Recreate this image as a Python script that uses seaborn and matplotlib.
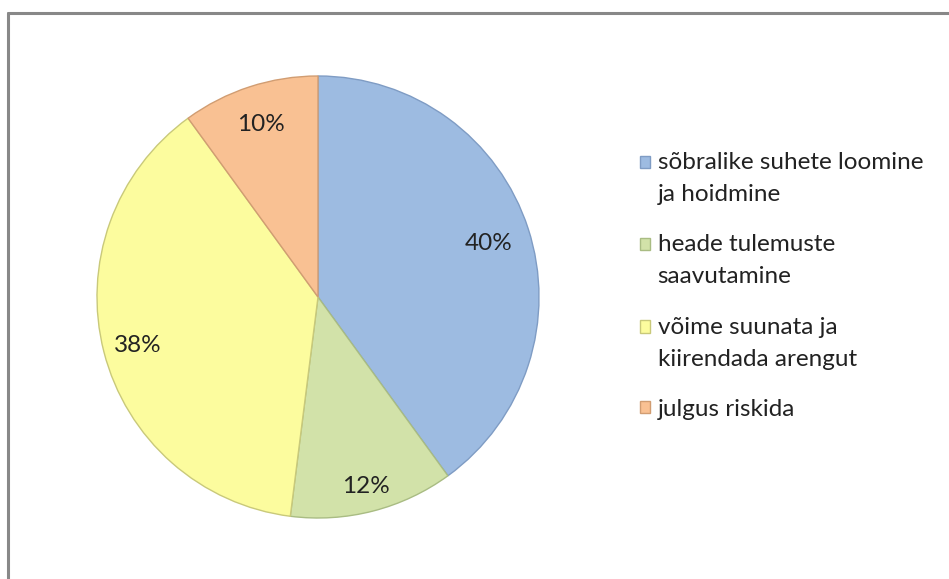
import numpy as np
import seaborn as sns
import matplotlib.pyplot as plt
from matplotlib.lines import Line2D
from matplotlib.patches import Rectangle
from matplotlib.legend_handler import HandlerPatch

labels = ["sõbralike suhete loomine\nja hoidmine", "heade tulemuste\nsaavutamine",
          "võime suunata ja\nkiirendada arengut", "julgus riskida"]
shares = [40, 12, 38, 10]
label_dist = [0.81, 0.875, 0.84, 0.83]
colors = ["#9DBBE1", "#D2E2A9", "#FCFC9E", "#F9C193"]
edges = ["#7F9CC4", "#A9BC83", "#C9C97A", "#D19D72"]

sns.set_theme(style="white")
plt.rcParams["font.family"] = ["Lato", "DejaVu Sans"]

fig = plt.figure(figsize=(9.49, 5.79), dpi=100)

# frame like the spreadsheet chart border
fig.add_artist(Line2D([8 / 949, 8 / 949], [0, 1 - 13 / 579], color="#888888", lw=2.2))
fig.add_artist(Line2D([8 / 949, 1], [1 - 13 / 579, 1 - 13 / 579], color="#888888", lw=2.2))

r = 221
ax = fig.add_axes([(318 - r) / 949, (579 - 297 - r) / 579, 2 * r / 949, 2 * r / 579])
wedges, texts, autotexts = ax.pie(
    shares, colors=colors, startangle=90, counterclock=False,
    autopct="%d%%", pctdistance=0.84,
    wedgeprops=dict(linewidth=1.0),
    textprops=dict(fontsize=17.5, color="#222222"),
)
for w, e, t, d in zip(wedges, edges, autotexts, label_dist):
    w.set_edgecolor(e)
    mid = np.deg2rad((w.theta1 + w.theta2) / 2)
    t.set_position((d * np.cos(mid), d * np.sin(mid)))
    t.set_va("center_baseline")
ax.set_xlim(-1, 1)
ax.set_ylim(-1, 1)
ax.set_aspect("equal")


# put the square next to the first line of a two-line label
def square_top(shift):
    def make(legend, orig_handle, xdescent, ydescent, width, height, fontsize):
        return Rectangle((-xdescent, -ydescent + shift), width, height)
    return make


handler_map = {w: HandlerPatch(patch_func=square_top(11.9 if "\n" in lab else 0))
               for w, lab in zip(wedges, labels)}

leg = fig.legend(
    wedges, labels, loc="upper left", bbox_to_anchor=(628 / 949, 1 - 140 / 579),
    frameon=False, fontsize=17.5, handlelength=0.42, handleheight=0.42,
    handletextpad=0.3, labelspacing=1.2, borderpad=0, handler_map=handler_map,
)
for t in leg.get_texts():
    t.set_color("#222222")
    t.set_linespacing(1.65)

fig.savefig("out.png", dpi=100)
